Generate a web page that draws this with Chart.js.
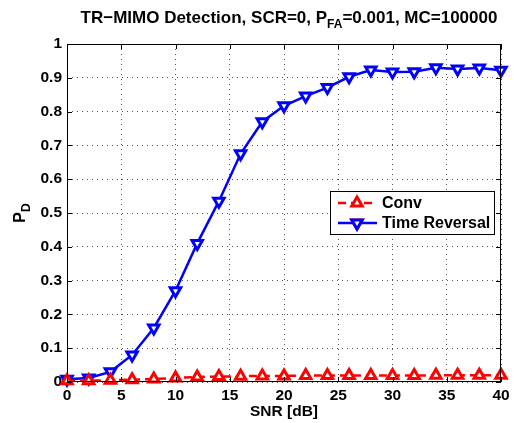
<!DOCTYPE html>
<html>
<head>
<meta charset="utf-8">
<script src="https://cdn.jsdelivr.net/npm/chart.js@4.4.0/dist/chart.umd.min.js"></script>
<style>
  html, body { margin: 0; padding: 0; background: #fff; }
  #wrap { width: 514px; height: 423px; }
</style>
</head>
<body>
<div id="wrap"><canvas id="chartjs-0" width="514" height="423"></canvas></div>
<script>
"use strict";

// SNR in dB
var snr = [0, 2, 4, 6, 8, 10, 12, 14, 16, 18, 20, 22, 24, 26, 28, 30, 32, 34, 36, 38, 40];
// probability of detection, conventional detector
var convPd = [0.004, 0.004, 0.005, 0.007, 0.009, 0.012, 0.015, 0.016, 0.017, 0.018, 0.018,
              0.019, 0.019, 0.019, 0.019, 0.019, 0.019, 0.02, 0.02, 0.02, 0.02];
// probability of detection, time reversal detector
var trPd = [0.008, 0.012, 0.03, 0.08, 0.16, 0.27, 0.41, 0.535, 0.675, 0.77, 0.817,
            0.846, 0.871, 0.903, 0.923, 0.917, 0.918, 0.93, 0.926, 0.929, 0.922];
var xTicks = [0, 5, 10, 15, 20, 25, 30, 35, 40];
var yTicks = [0, 0.1, 0.2, 0.3, 0.4, 0.5, 0.6, 0.7, 0.8, 0.9, 1];

var FONT = "'Liberation Sans', Arial, Helvetica, sans-serif";

function toPoints(xs, ys) {
  var pts = [];
  for (var i = 0; i < xs.length; i++) {
    pts.push({ x: xs[i], y: ys[i] });
  }
  return pts;
}

/* frame, inward ticks, title, y label with subscript, legend box */
var matlabLook = {
  id: "matlabLook",
  afterDraw: function (chart) {
    var ctx = chart.ctx;
    var a = chart.chartArea;
    var xs = chart.scales.x, ys = chart.scales.y;
    ctx.save();
    ctx.strokeStyle = "#000";
    ctx.lineWidth = 1;
    ctx.strokeRect(a.left + 0.5, a.top + 0.5, a.right - a.left - 1, a.bottom - a.top - 1);

    ctx.beginPath();
    xTicks.forEach(function (v) {
      var px = Math.round(xs.getPixelForValue(v)) + 0.5;
      ctx.moveTo(px, a.bottom); ctx.lineTo(px, a.bottom - 5);
      ctx.moveTo(px, a.top); ctx.lineTo(px, a.top + 5);
    });
    yTicks.forEach(function (v) {
      var py = Math.round(ys.getPixelForValue(v)) + 0.5;
      ctx.moveTo(a.left, py); ctx.lineTo(a.left + 5, py);
      ctx.moveTo(a.right, py); ctx.lineTo(a.right - 5, py);
    });
    ctx.stroke();

    // title with subscript
    ctx.fillStyle = "#000";
    ctx.textBaseline = "alphabetic";
    var big = "bold 17px " + FONT, small = "bold 12px " + FONT;
    var parts = [["TR\u2212MIMO Detection, SCR=0, P", big, 0], ["FA", small, 5], ["=0.001, MC=100000", big, 0]];
    var total = 0;
    parts.forEach(function (p) { ctx.font = p[1]; total += ctx.measureText(p[0]).width; });
    var cx = 289 - total / 2;
    parts.forEach(function (p) {
      ctx.font = p[1];
      ctx.fillText(p[0], cx, 23 + p[2]);
      cx += ctx.measureText(p[0]).width;
    });

    // y label P_D
    var lab = "bold 16px " + FONT, sub = "bold 12px " + FONT;
    ctx.save();
    ctx.translate(25, (a.top + a.bottom) / 2);
    ctx.rotate(-Math.PI / 2);
    ctx.font = lab;
    var w1 = ctx.measureText("P").width;
    ctx.font = sub;
    var w2 = ctx.measureText("D").width;
    ctx.font = lab;
    ctx.fillText("P", -(w1 + w2) / 2, 0);
    ctx.font = sub;
    ctx.fillText("D", -(w1 + w2) / 2 + w1, 5);
    ctx.restore();

    // legend box
    var bx = 330, by = 191, bw = 164, bh = 43;
    ctx.fillStyle = "#fff";
    ctx.fillRect(bx, by, bw, bh);
    ctx.strokeRect(bx + 0.5, by + 0.5, bw, bh);
    var rows = [203, 223];
    chart.data.datasets.forEach(function (ds, i) {
      var ry = rows[i];
      ctx.save();
      ctx.strokeStyle = ds.borderColor;
      ctx.lineWidth = ds.borderWidth;
      ctx.setLineDash(ds.borderDash || []);
      ctx.beginPath();
      ctx.moveTo(338, ry); ctx.lineTo(377, ry);
      ctx.stroke();
      ctx.restore();
      Chart.helpers.drawPoint(ctx, {
        pointStyle: ds.pointStyle,
        rotation: ds.pointRotation || 0,
        radius: ds.pointRadius,
        borderWidth: ds.pointBorderWidth
      }, 357, ry);
      ctx.fillStyle = ds.pointBackgroundColor;
      ctx.strokeStyle = ds.borderColor;
      ctx.lineWidth = ds.pointBorderWidth;
      ctx.setLineDash([]);
      ctx.fill();
      ctx.stroke();
      ctx.fillStyle = "#000";
      ctx.font = "bold 16px " + FONT;
      ctx.textBaseline = "middle";
      ctx.fillText(ds.label, 382, ry + 1);
    });
    ctx.restore();
  }
};

var ctx0 = document.getElementById("chartjs-0");
var myChart = new Chart(ctx0, {
  type: "line",
  data: {
    datasets: [
      {
        label: "Conv",
        data: toPoints(snr, convPd),
        borderColor: "#ff0000",
        borderWidth: 2.5,
        borderDash: [8, 5],
        pointStyle: "triangle",
        pointRadius: 6,
        pointBorderWidth: 3,
        pointBackgroundColor: "#ffffff",
        pointBorderColor: "#ff0000",
        tension: 0,
        fill: false
      },
      {
        label: "Time Reversal",
        data: toPoints(snr, trPd),
        borderColor: "#0000ff",
        borderWidth: 2.5,
        pointStyle: "triangle",
        pointRotation: 180,
        pointRadius: 6,
        pointBorderWidth: 3,
        pointBackgroundColor: "#ffffff",
        pointBorderColor: "#0000ff",
        tension: 0,
        fill: false
      }
    ]
  },
  options: {
    responsive: false,
    animation: false,
    clip: false,
    layout: { padding: { left: 0, right: 13, top: 44, bottom: 0 } },
    plugins: { legend: { display: false }, tooltip: { enabled: false } },
    scales: {
      x: {
        type: "linear",
        min: 0,
        max: 40,
        afterFit: function (s) { s.height = 41; },
        afterBuildTicks: function (s) { s.ticks = xTicks.map(function (v) { return { value: v }; }); },
        grid: { color: "#555", drawTicks: false, lineWidth: 1 },
        border: { display: false, dash: [1, 4] },
        ticks: { color: "#000", padding: 4, font: { family: FONT, size: 15.5, weight: "bold" } },
        title: { display: true, text: "SNR [dB]", color: "#000", padding: { top: 0, bottom: 2 },
                 font: { family: FONT, size: 15.5, weight: "bold" } }
      },
      y: {
        type: "linear",
        min: 0,
        max: 1,
        afterFit: function (s) { s.width = 67; },
        afterBuildTicks: function (s) { s.ticks = yTicks.map(function (v) { return { value: v }; }); },
        grid: { color: "#555", drawTicks: false, lineWidth: 1 },
        border: { display: false, dash: [1, 4] },
        ticks: { color: "#000", padding: 5, font: { family: FONT, size: 15.5, weight: "bold" },
                 callback: function (v) { return Math.round(v * 10) / 10; } }
      }
    }
  },
  plugins: [matlabLook]
});
</script>
</body>
</html>
